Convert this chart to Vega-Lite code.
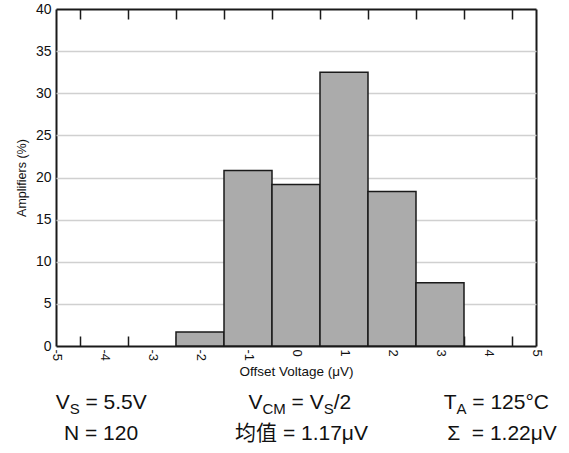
{
  "$schema": "https://vega.github.io/schema/vega-lite/v6.json",
  "background": "white",
  "padding": {"left": 15, "top": 2, "right": 5, "bottom": 5},
  "spacing": 12,
  "config": {
    "font": "Liberation Sans",
    "view": {"stroke": null},
    "axis": {"labelColor": "#111111", "titleColor": "#111111", "titleFontWeight": "normal", "labelFont": "Liberation Sans", "titleFont": "Liberation Sans"}
  },
  "vconcat": [
    {
      "width": 480,
      "height": 337,
      "data": {"values": [
        {"lo": -2.5, "hi": -1.5, "pct": 1.67},
        {"lo": -1.5, "hi": -0.5, "pct": 20.83},
        {"lo": -0.5, "hi": 0.5, "pct": 19.17},
        {"lo": 0.5, "hi": 1.5, "pct": 32.5},
        {"lo": 1.5, "hi": 2.5, "pct": 18.33},
        {"lo": 2.5, "hi": 3.5, "pct": 7.5}
      ]},
      "mark": {"type": "rect", "fill": "#ababab", "stroke": "#1a1a1a", "strokeWidth": 1.5},
      "encoding": {
        "x": {"field": "lo", "type": "quantitative",
          "scale": {"domain": [-5, 5], "nice": false, "zero": false},
          "axis": {"orient": "bottom", "values": [-5,-4.5,-4,-3.5,-3,-2.5,-2,-1.5,-1,-0.5,0,0.5,1,1.5,2,2.5,3,3.5,4,4.5,5],
            "labelExpr": "datum.value % 1 === 0 ? toString(datum.value) : ''",
            "ticks": false, "domain": false,
            "grid": true, "gridColor": "#1a1a1a",
            "gridOpacity": {"condition": {"test": "datum.value % 1 !== 0 || abs(datum.value) === 5", "value": 1}, "value": 0},
            "gridWidth": {"condition": {"test": "abs(datum.value) === 5", "value": 2}, "value": 1.5},
            "gridDash": {"condition": {"test": "datum.value % 1 !== 0", "value": [10, 317]}, "value": []},
            "labelAngle": 90, "labelPadding": 3, "labelFontSize": 13, "labelFlush": false, "labelOverlap": false,
            "title": "Offset Voltage (μV)", "titleFontSize": 13.5, "titlePadding": 4}},
        "x2": {"field": "hi"},
        "y": {"field": "pct", "type": "quantitative",
          "scale": {"domain": [0, 40], "nice": false},
          "axis": {"values": [0,5,10,15,20,25,30,35,40], "ticks": false, "domain": false,
            "grid": true,
            "gridColor": {"condition": {"test": "datum.value === 0 || datum.value === 40", "value": "#1a1a1a"}, "value": "#d0d0d0"},
            "gridWidth": {"condition": {"test": "datum.value === 0 || datum.value === 40", "value": 2}, "value": 1.5},
            "labelFontSize": 14, "labelPadding": 5,
            "title": "Amplifiers (%)", "titleFontSize": 12.5, "titlePadding": 7}},
        "y2": {"datum": 0}
      }
    },
    {
      "width": 491,
      "height": 62,
      "data": {"values": [
        {"col": "c1", "row": "r1", "p1": "V", "s1": "S", "p2": "= 5.5V"},
        {"col": "c2", "row": "r1", "p1": "V", "s1": "CM", "p2": "= V", "s2": "S", "p3": "/2"},
        {"col": "c3", "row": "r1", "p1": "T", "s1": "A", "p2": "= 125°C"},
        {"col": "c1", "row": "r2", "p1": "N = 120"},
        {"col": "c2", "row": "r2", "p1": "均值 = 1.17μV"},
        {"col": "c3", "row": "r2", "p1": "Σ\u00a0\u00a0= 1.22μV"}
      ]},
      "encoding": {
        "x": {"field": "col", "type": "nominal", "scale": {"type": "point", "domain": ["c1", "c2", "c3"], "padding": 0.2244}, "axis": null},
        "y": {"field": "row", "type": "nominal", "scale": {"type": "point", "domain": ["r1", "r2"], "padding": 0.5}, "axis": null}
      },
      "layer": [
        {"transform": [{"filter": "datum.row === 'r2'"}],
         "mark": {"type": "text", "align": "center", "baseline": "alphabetic", "fontSize": 21, "font": "Liberation Sans, Noto Sans CJK SC", "color": "#111111"},
         "encoding": {"text": {"field": "p1"}}},
        {"transform": [{"filter": "datum.col === 'c1' && datum.row === 'r1'"}],
         "mark": {"type": "text", "align": "right", "baseline": "alphabetic", "fontSize": 21, "dx": -31.3, "color": "#111111"},
         "encoding": {"text": {"field": "p1"}}},
        {"transform": [{"filter": "datum.col === 'c1' && datum.row === 'r1'"}],
         "mark": {"type": "text", "align": "left", "baseline": "alphabetic", "fontSize": 15, "dx": -31.3, "dy": 5, "color": "#111111"},
         "encoding": {"text": {"field": "s1"}}},
        {"transform": [{"filter": "datum.col === 'c1' && datum.row === 'r1'"}],
         "mark": {"type": "text", "align": "left", "baseline": "alphabetic", "fontSize": 21, "dx": -15.5, "color": "#111111"},
         "encoding": {"text": {"field": "p2"}}},
        {"transform": [{"filter": "datum.col === 'c2' && datum.row === 'r1'"}],
         "mark": {"type": "text", "align": "right", "baseline": "alphabetic", "fontSize": 21, "dx": -39, "color": "#111111"},
         "encoding": {"text": {"field": "p1"}}},
        {"transform": [{"filter": "datum.col === 'c2' && datum.row === 'r1'"}],
         "mark": {"type": "text", "align": "left", "baseline": "alphabetic", "fontSize": 15, "dx": -39, "dy": 5, "color": "#111111"},
         "encoding": {"text": {"field": "s1"}}},
        {"transform": [{"filter": "datum.col === 'c2' && datum.row === 'r1'"}],
         "mark": {"type": "text", "align": "left", "baseline": "alphabetic", "fontSize": 21, "dx": -9.9, "color": "#111111"},
         "encoding": {"text": {"field": "p2"}}},
        {"transform": [{"filter": "datum.col === 'c2' && datum.row === 'r1'"}],
         "mark": {"type": "text", "align": "left", "baseline": "alphabetic", "fontSize": 15, "dx": 22.2, "dy": 5, "color": "#111111"},
         "encoding": {"text": {"field": "s2"}}},
        {"transform": [{"filter": "datum.col === 'c2' && datum.row === 'r1'"}],
         "mark": {"type": "text", "align": "left", "baseline": "alphabetic", "fontSize": 21, "dx": 32.2, "color": "#111111"},
         "encoding": {"text": {"field": "p3"}}},
        {"transform": [{"filter": "datum.col === 'c3' && datum.row === 'r1'"}],
         "mark": {"type": "text", "align": "right", "baseline": "alphabetic", "fontSize": 21, "dx": -45.5, "color": "#111111"},
         "encoding": {"text": {"field": "p1"}}},
        {"transform": [{"filter": "datum.col === 'c3' && datum.row === 'r1'"}],
         "mark": {"type": "text", "align": "left", "baseline": "alphabetic", "fontSize": 15, "dx": -45.5, "dy": 5, "color": "#111111"},
         "encoding": {"text": {"field": "s1"}}},
        {"transform": [{"filter": "datum.col === 'c3' && datum.row === 'r1'"}],
         "mark": {"type": "text", "align": "left", "baseline": "alphabetic", "fontSize": 21, "dx": -29.7, "color": "#111111"},
         "encoding": {"text": {"field": "p2"}}}
      ]
    }
  ]
}
